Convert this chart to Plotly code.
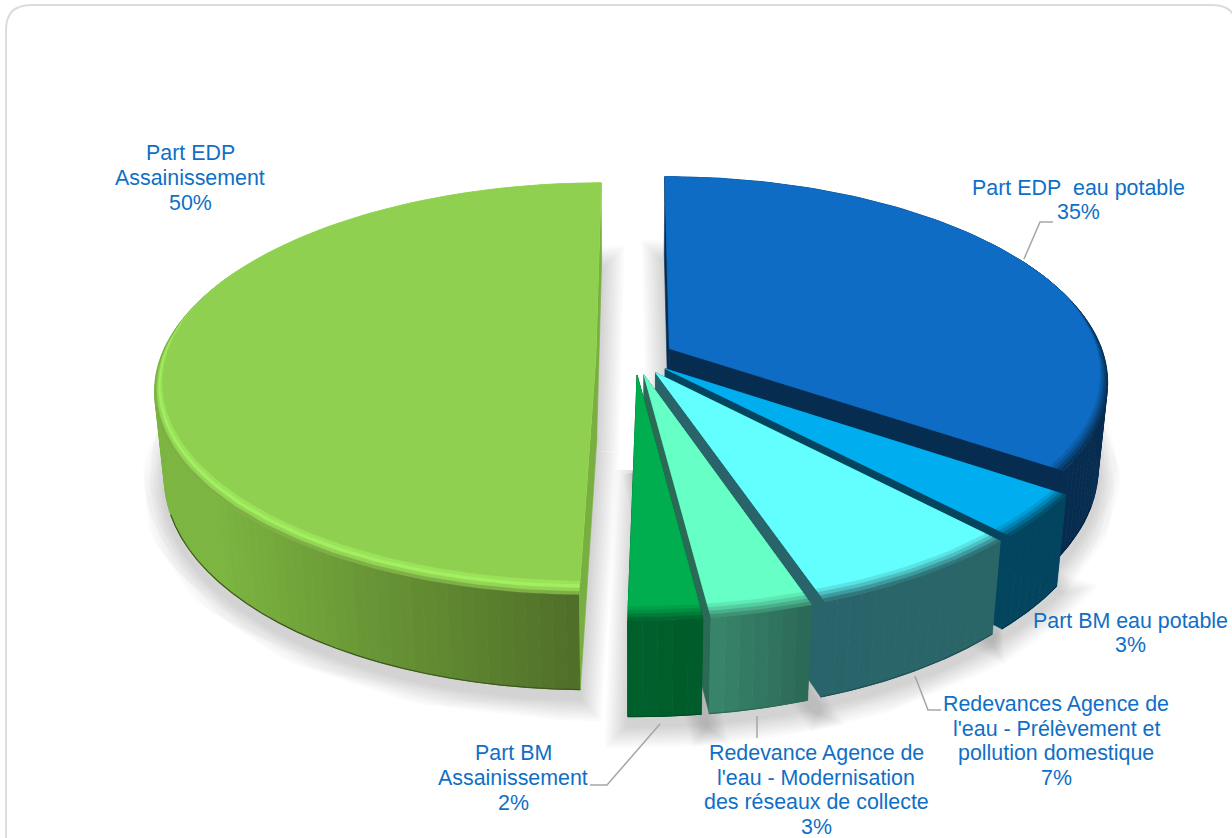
import numpy as np
import plotly.graph_objects as go

# donnees
labels = [["Part EDP\u00a0 eau potable"], ["Part BM eau potable"],
          ["Redevances Agence de", "l'eau - Prélèvement et", "pollution domestique"],
          ["Redevance Agence de", "l'eau - Modernisation", "des réseaux de collecte"],
          ["Part BM", "Assainissement"], ["Part EDP", "Assainissement"]]
# pourcentages affiches, et valeurs estimees d'apres la taille des parts
percents = [35, 3, 7, 3, 2, 50]
values = [34.5, 3.4, 6.9, 3.2, 2.3, 49.7]

face_colors = ["#0e6cc4", "#00aeef", "#63ffff", "#66ffc6", "#00ae4f", "#90d050"]
wall_start = ["#062d50", "#03455f", "#2a6668", "#2c6a58", "#005c2a", "#7cb540"]
wall_end = ["#062d50", "#03455f", "#29646a", "#38846a", "#00602c", "#4f6e28"]
side_colors = ["#062d50", "#03455f", "#29646a", "#2c6a58", "#005c2a", "#79ae40"]
rim_colors = {5: ["#7fb045", "#93d655", "#a2ef62", "#9ae25a", "#90d050"]}

label_x = [1078, 1130, 1056, 816, 513, 190]
label_y = [200, 633, 741, 790, 778, 178]
leader_x = [[1024, 1040, 1053], [], [915, 928, 941], [757, 757], [660, 607, 590], []]
leader_y = [[259, 222, 222], [], [676, 710, 710], [716, 738], [724, 785, 785], []]

# projection du camembert en perspective
cx, cy = 635, 357
fx, fy, fz = 435, 201, 87
persp_y, persp_z = 0.155, 0.02
explode = 0.09
rim_depth = 0.05
line_gap = 24.7


def project(x, y, z=0.0):
    w = 1 + persp_y * y - persp_z * z
    return cx + fx * x / w, cy - (fy * y + fz * z) / w


def mix(c1, c2, t):
    a = [int(c1[i:i + 2], 16) for i in (1, 3, 5)]
    b = [int(c2[i:i + 2], 16) for i in (1, 3, 5)]
    return "rgb(%d,%d,%d)" % tuple(round(p + (q - p) * t) for p, q in zip(a, b))


def poly(fig, x, y, color, line=0.6):
    fig.add_trace(go.Scatter(x=x, y=y, mode="lines", fill="toself", fillcolor=color,
                             line=dict(color=color, width=line), hoverinfo="skip"))


fig = go.Figure()

total = sum(values)
ends = np.cumsum(values) / total * 2 * np.pi
starts = ends - np.array(values) / total * 2 * np.pi
slices = []
for a0, a1 in zip(starts, ends):
    mid = (a0 + a1) / 2
    slices.append((a0, a1, explode * np.sin(mid), explode * np.cos(mid)))

# ombre portee
for a0, a1, ox, oy in slices:
    th = np.linspace(a0, a1, max(int((a1 - a0) * 30), 4))
    px = np.r_[ox, ox + np.sin(th), ox]
    py = np.r_[oy, oy + np.cos(th), oy]
    sx, sy = project(px, py, -1.0)
    for width in range(4, 48, 4):
        fig.add_trace(go.Scatter(x=sx, y=sy + 9, mode="lines", fill="toself", fillcolor="#000000",
                                 line=dict(color="#000000", width=width), opacity=0.013,
                                 hoverinfo="skip"))

# parts, de l'arriere vers l'avant
for i, (a0, a1, ox, oy) in enumerate(slices):
    # faces radiales
    for a in (a0, a1):
        px = np.array([ox, ox + np.sin(a), ox + np.sin(a), ox, ox])
        py = np.array([oy, oy + np.cos(a), oy + np.cos(a), oy, oy])
        pz = np.array([0, 0, -1, -1, 0.0])
        sx, sy = project(px, py, pz)
        poly(fig, sx, sy, side_colors[i])

    # paroi exterieure, par bandes pour le degrade
    n = max(int((a1 - a0) / np.radians(1.5)), 2)
    edges = np.linspace(a0, a1, n + 1)
    for k in range(n):
        if np.cos(edges[k]) > 0.45 and np.cos(edges[k + 1]) > 0.45:
            continue
        th = np.linspace(edges[k], edges[k + 1], 3)
        if i == 5:
            t = 1 - np.clip(1.3 * abs(np.sin(edges[k])), 0, 1)
        else:
            t = k / max(n - 1, 1)
        px = np.r_[ox + np.sin(th), ox + np.sin(th[::-1])]
        py = np.r_[oy + np.cos(th), oy + np.cos(th[::-1])]
        pz = np.r_[np.zeros(3), -np.ones(3)]
        sx, sy = project(px, py, pz)
        poly(fig, sx, sy, mix(wall_start[i], wall_end[i], t), line=1)

    # arete basse plus sombre
    th = np.linspace(a0, a1, 60)
    th = th[np.cos(th) < -0.3]
    if len(th):
        sx, sy = project(ox + np.sin(th), oy + np.cos(th), -1.0)
        fig.add_trace(go.Scatter(x=sx, y=sy, mode="lines", hoverinfo="skip",
                                 line=dict(color=mix(wall_end[i], "#000000", 0.2), width=1.2)))

    # dessus avec un biseau plus marque vers l'avant
    th = np.linspace(a0, a1, max(int((a1 - a0) * 40), 12))
    rim = rim_colors.get(i)
    if rim is None:
        rim = [mix(wall_end[i], face_colors[i], t) for t in (0.12, 0.35, 0.6, 0.82, 1.0)]
    for lev, col in enumerate(rim):
        f = np.clip(0.3 - np.cos(th), 0, 1.3) / 1.3
        r = 1 - rim_depth * f * lev / (len(rim) - 1)
        px = np.r_[ox, ox + r * np.sin(th), ox]
        py = np.r_[oy, oy + r * np.cos(th), oy]
        sx, sy = project(px, py, 0.0)
        poly(fig, sx, sy, col, line=0.3)

# traits de rappel
for lx, ly in zip(leader_x, leader_y):
    if lx:
        fig.add_trace(go.Scatter(x=lx, y=ly, mode="lines", line=dict(color="#a6a6a6", width=1.5),
                                 hoverinfo="skip"))

# etiquettes, ligne par ligne pour garder l'interligne serre
for name, pct, x, y in zip(labels, percents, label_x, label_y):
    lines = name + [f"{pct}%"]
    for j, txt in enumerate(lines):
        fig.add_annotation(x=x, y=y + (j - (len(lines) - 1) / 2) * line_gap, text=txt,
                           showarrow=False, align="center", yanchor="middle",
                           font=dict(family="Liberation Sans", size=21.4, color="#0f6fc6"))

fig.update_layout(
    width=1232, height=838, margin=dict(l=0, r=0, t=0, b=0),
    paper_bgcolor="white", plot_bgcolor="white", showlegend=False,
    xaxis=dict(range=[0, 1232], visible=False, fixedrange=True),
    yaxis=dict(range=[838, 0], visible=False, fixedrange=True),
    shapes=[dict(type="path", path="M 6,870 L 6,30 Q 6,5 31,5 L 1212,5 Q 1237,5 1237,30 L 1237,870",
                 line=dict(color="#dcdcdc", width=2), layer="below")],
)

fig.write_html("out.html", config=dict(displayModeBar=False),
               post_script="document.body.style.margin='0';document.body.style.overflow='hidden';")
